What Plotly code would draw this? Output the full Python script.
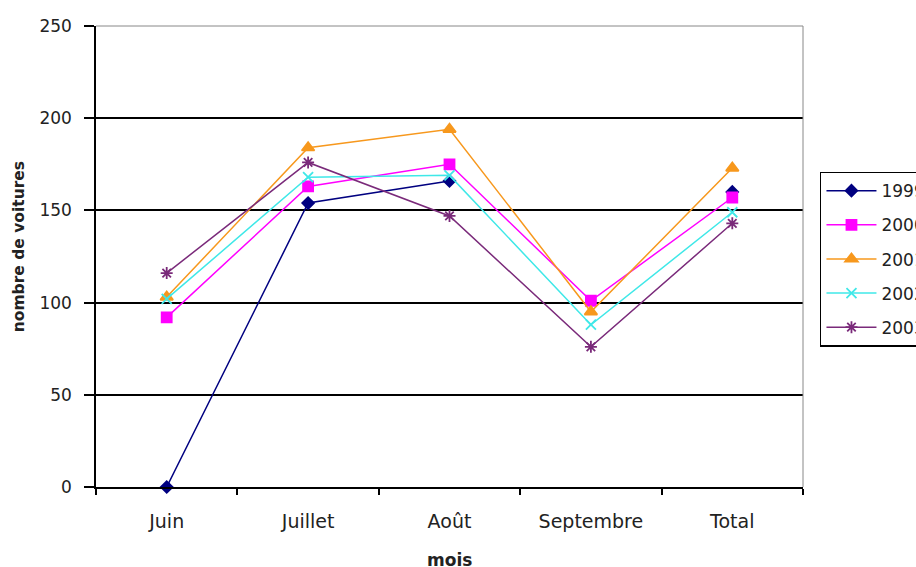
import plotly.graph_objects as go

# Monthly car counts per season, with the season total
mois = ["Juin", "Juillet", "Août", "Septembre", "Total"]
annees = ["1999", "2000", "2001", "2002", "2003"]
v1999 = [0, 154, 166, None, 160]
v2000 = [92, 163, 175, 101, 157]
v2001 = [103, 184, 194, 95, 173]
v2002 = [102, 168, 169, 88, 149]
v2003 = [116, 176, 147, 76, 143]
y_ticks = [0, 50, 100, 150, 200, 250]

series = [v1999, v2000, v2001, v2002, v2003]
colors = ["#000080", "#FF00FF", "#F7981D", "#3FE8E8", "#7A2A7A"]
symbols = ["diamond", "square", "triangle-up", "x-thin-open", "asterisk-open"]
sizes = [9, 10, 11, 10, 10]

FONT = "DejaVu Sans, sans-serif"
TXT = "#222222"

fig = go.Figure()
for name, vals, col, sym, sz in zip(annees, series, colors, symbols, sizes):
    fig.add_trace(go.Scatter(
        x=mois, y=vals, name=name, legendgroup=name,
        mode="lines+markers",
        line=dict(color=col, width=1.5),
        marker=dict(symbol=sym, size=sz, color=col,
                    line=dict(color=col, width=1.8)),
        connectgaps=False, cliponaxis=False,
    ))

fig.update_layout(
    width=916, height=567,
    margin=dict(l=96, r=113, t=26, b=80, autoexpand=False),
    paper_bgcolor="white", plot_bgcolor="white",
    font=dict(family=FONT, size=14, color=TXT),
    showlegend=True,
    legend=dict(
        x=1.024, y=0.684, xanchor="left", yanchor="top",
        bordercolor="black", borderwidth=1.5, bgcolor="white",
        font=dict(family=FONT, size=17, color=TXT),
        tracegroupgap=9, traceorder="grouped", itemwidth=50,
    ),
)

fig.update_xaxes(
    type="category", range=[-0.5, 4.5],
    tickson="boundaries", ticks="outside", ticklen=6, tickwidth=1.5,
    tickcolor="black", showline=True, linecolor="black", linewidth=1.5,
    showgrid=False, zeroline=False,
    tickfont=dict(family=FONT, size=19, color=TXT),
    ticklabelstandoff=16,
)

fig.update_yaxes(
    range=[0, 250], tickvals=y_ticks,
    ticks="outside", ticklen=10, tickwidth=1.5, tickcolor="black",
    showline=True, linecolor="black", linewidth=1.5,
    showgrid=True, gridcolor="black", gridwidth=1.8,
    zeroline=False,
    tickfont=dict(family=FONT, size=17, color=TXT),
    ticklabelstandoff=9,
)

# Axis titles
fig.add_annotation(text="<b>mois</b>", xref="paper", yref="paper",
                   x=0.5, y=-0.158, xanchor="center", yanchor="middle",
                   showarrow=False, font=dict(family=FONT, size=17, color=TXT))
fig.add_annotation(text="<b>nombre de voitures</b>", xref="paper", yref="paper",
                   x=-0.109, y=0.522, xanchor="center", yanchor="middle",
                   textangle=-90, showarrow=False,
                   font=dict(family=FONT, size=15.5, color=TXT))

# Thin grey frame on the top and right of the plot area
fig.add_shape(type="line", xref="paper", yref="paper", x0=0, x1=1, y0=1, y1=1,
              line=dict(color="#888888", width=1))
fig.add_shape(type="line", xref="paper", yref="paper", x0=1, x1=1, y0=0, y1=1,
              line=dict(color="#888888", width=1))

fig.write_html("out.html")
